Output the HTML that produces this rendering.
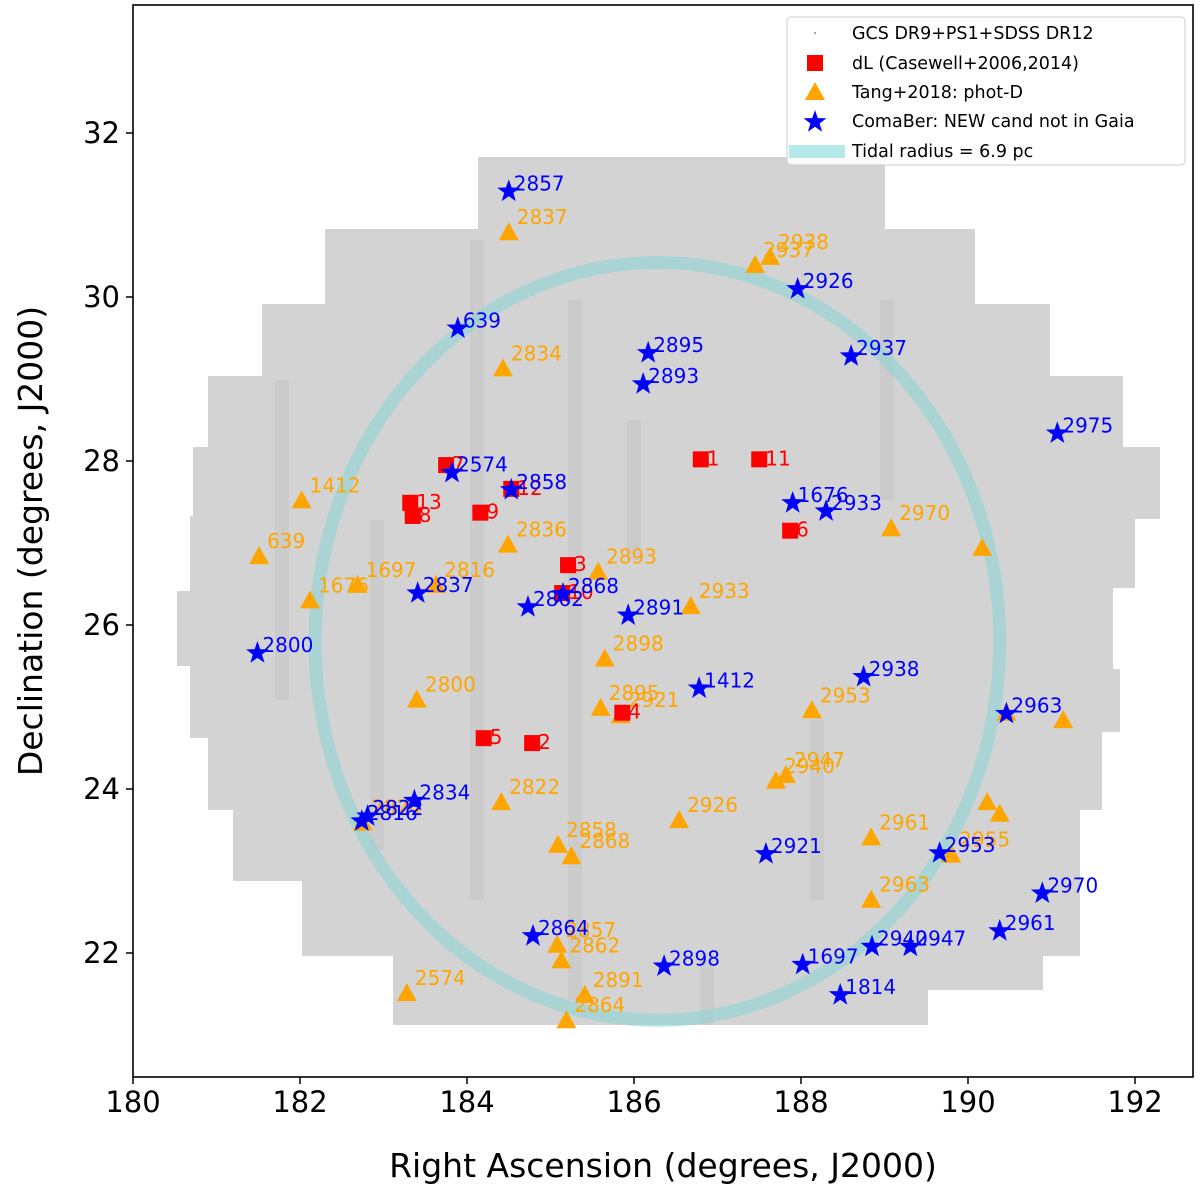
<!DOCTYPE html>
<html><head><meta charset="utf-8"><style>
body{margin:0;background:#fff;}
svg{display:block;font-family:"DejaVu Sans","Liberation Sans",sans-serif;}
</style></head><body>
<svg id="chart" width="1200" height="1200" viewBox="0 0 1200 1200">
<defs>
<clipPath id="plotclip"><rect x="133" y="5" width="1060" height="1072"/></clipPath>
</defs>
<rect x="0" y="0" width="1200" height="1200" fill="#fff"/>
<g id="footprint"></g>
<g id="plot" clip-path="url(#plotclip)"></g>
<rect x="133" y="5" width="1060" height="1072" fill="none" stroke="#000" stroke-width="1.6"/>
<g id="axes"></g>
<g id="legend"></g>
</svg>
<script>
const xTicks=[180,182,184,186,188,190,192];
const yTicks=[22,24,26,28,30,32];
const dlRA=[186.80,187.50,183.75,183.32,183.35,184.16,184.53,187.87,185.21,185.14,185.86,184.20,184.78];
const dlDec=[28.02,28.02,27.95,27.49,27.33,27.37,27.66,27.15,26.73,26.39,24.93,24.62,24.56];
const dlLab=["1","11","7","13","8","9","12","6","3","10","4","5","2"];
const tRA=[184.50,187.63,187.45,184.43,182.02,181.51,182.12,182.69,183.63,184.49,185.57,186.68,185.65,183.40,185.60,185.84,188.13,187.82,187.70,184.41,186.54,185.09,185.25,188.84,190.23,190.38,189.80,188.84,189.08,190.17,191.14,190.46,185.08,185.13,185.41,185.19,183.28,182.75];
const tDec=[30.79,30.49,30.39,29.13,27.52,26.84,26.30,26.49,26.49,26.98,26.65,26.23,25.59,25.09,24.99,24.90,24.96,24.17,24.10,23.84,23.62,23.32,23.18,23.41,23.84,23.70,23.20,22.65,27.18,26.94,24.84,24.93,22.10,21.91,21.49,21.18,21.51,23.59];
const tLab=["2837","2938","2937","2834","1412","639","1676","1697","2816","2836","2893","2933","2898","2800","2895","2921","2953","2947","2940","2822","2926","2858","2868","2961","","","2955","2963","2970","","","","2857","2862","2891","2864","2574","2824"];
const sRA=[184.50,187.96,183.89,186.17,186.11,188.60,191.07,183.82,184.53,187.90,188.30,183.41,185.15,184.73,185.93,181.49,186.78,188.75,190.46,183.37,182.81,182.74,187.58,189.66,190.89,190.38,184.79,186.36,188.02,188.85,189.31,188.47];
const sDec=[31.30,30.11,29.63,29.33,28.95,29.29,28.35,27.87,27.66,27.50,27.40,26.40,26.39,26.23,26.13,25.67,25.24,25.38,24.93,23.87,23.68,23.62,23.22,23.23,22.74,22.28,22.22,21.85,21.87,22.09,22.09,21.50];
const sLab=["2857","2926","639","2895","2893","2937","2975","2574","2858","1676","2933","2837","2868","2862","2891","2800","1412","2938","2963","2834","2822","2816","2921","2953","2970","2961","2864","2898","1697","2940","2947","1814"];
const tidalCenter=[186.28,25.80];
const tidalRadius=[4.10,4.62];

const NS="http://www.w3.org/2000/svg";
const X=v=>133+(v-180)*83.5;
const Y=v=>133+(32-v)*82;
function mk(tag,attrs,parent){const e=document.createElementNS(NS,tag);for(const k in attrs)e.setAttribute(k,attrs[k]);parent.appendChild(e);return e;}
const plot=document.getElementById('plot'),axes=document.getElementById('axes'),fp=document.getElementById('footprint'),leg=document.getElementById('legend');

const outline="478,157 885,157 885,229 975,229 975,304 1050,304 1050,376 1123,376 1123,447 1160,447 1160,519 1135,519 1135,588 1113,588 1113,669 1120,669 1120,732 1102,732 1102,810 1080,810 1080,956 1043,956 1043,990 928,990 928,1025 393,1025 393,956 302,956 302,881 233,881 233,810 208,810 208,738 190,738 190,666 177,666 177,591 190,591 190,516 193,516 193,447 208,447 208,376 262,376 262,304 325,304 325,229 478,229";
let p=mk('polygon',{points:outline,fill:'#d3d3d3'},fp);

const cp=mk('clipPath',{id:'fpclip'},document.querySelector('defs'));mk('polygon',{points:outline},cp);
const tex=mk('g',{'clip-path':'url(#fpclip)'},fp);
[[275,380,700],[370,520,850],[470,240,900],[568,300,1000],[627,420,560],[700,960,1030],[810,720,900],[880,300,500]].forEach(s=>{
  mk('rect',{x:s[0],y:s[1],width:14,height:s[2]-s[1],fill:'#888',opacity:'0.1'},tex);
});

let el=mk('ellipse',{cx:X(tidalCenter[0]),cy:Y(tidalCenter[1]),rx:tidalRadius[0]*83.5,ry:tidalRadius[1]*82,fill:'none',stroke:'#8fd6d6',"stroke-width":13,opacity:'0.6'},plot);


tRA.forEach((r,i)=>{const x=X(r),y=Y(tDec[i]);
  const t=mk('polygon',{points:`${x},${y-10} ${x+10},${y+8} ${x-10},${y+8}`,fill:'#ffa500'},plot);
  
  if(tLab[i]){const l=mk('text',{x:x+8,y:y-8,fill:'#ffa500','font-size':20},plot);l.textContent=tLab[i];
  }
});
dlRA.forEach((r,i)=>{const x=X(r),y=Y(dlDec[i]);
  const s=mk('rect',{x:x-8,y:y-8,width:16,height:16,fill:'#ff0000'},plot);
  
  const l=mk('text',{x:x+6,y:y+6,fill:'#ff0000','font-size':20},plot);l.textContent=dlLab[i];
  
});
function starPts(x,y,R){const r=R*0.4;let a=[];for(let k=0;k<10;k++){const ang=-Math.PI/2+k*Math.PI/5;const rr=k%2?r:R;a.push((x+rr*Math.cos(ang)).toFixed(1)+','+(y+rr*Math.sin(ang)).toFixed(1));}return a.join(' ');}
sRA.forEach((r,i)=>{const x=X(r),y=Y(sDec[i]);
  const s=mk('polygon',{points:starPts(x,y+1,12),fill:'#0000ff'},plot);
  
  const l=mk('text',{x:x+5,y:y,fill:'#0000ff','font-size':20},plot);l.textContent=sLab[i];
  
});

xTicks.forEach(v=>{const x=X(v);
  mk('line',{x1:x,y1:1077,x2:x,y2:1084,stroke:'#000','stroke-width':1.5},axes);
  const t=mk('text',{x:x,y:1112,'font-size':29,'text-anchor':'middle'},axes);t.textContent=v;
  
});
yTicks.forEach(v=>{const y=Y(v);
  mk('line',{x1:126,y1:y,x2:133,y2:y,stroke:'#000','stroke-width':1.5},axes);
  const t=mk('text',{x:120,y:y+10,'font-size':29,'text-anchor':'end'},axes);t.textContent=v;
  
});
let xt=mk('text',{x:663,y:1177,'font-size':33,'text-anchor':'middle'},axes);xt.textContent='Right Ascension (degrees, J2000)';

let yt=mk('text',{x:0,y:0,'font-size':33,'text-anchor':'middle',transform:'translate(42,541) rotate(-90)'},axes);yt.textContent='Declination (degrees, J2000)';


mk('rect',{x:787,y:17,width:398,height:148,rx:4,fill:'#fff','fill-opacity':0.85,stroke:'#ccc'},leg);
const lt=[['GCS DR9+PS1+SDSS DR12',33],['dL (Casewell+2006,2014)',63],['Tang+2018: phot-D',92],['ComaBer: NEW cand not in Gaia',121],['Tidal radius = 6.9 pc',151]];
mk('circle',{cx:815,cy:33,r:1,fill:'#888'},leg);
mk('rect',{x:807,y:55,width:16,height:16,fill:'#ff0000'},leg);
mk('polygon',{points:'815,82 825,100 805,100',fill:'#ffa500'},leg);
mk('polygon',{points:starPts(815,122,12),fill:'#0000ff'},leg);
mk('rect',{x:789,y:145,width:56,height:13,fill:'#b5e8e8'},leg);
lt.forEach(e=>{const t=mk('text',{x:852,y:e[1]+6,'font-size':17.5},leg);t.textContent=e[0];
  });
</script>
</body></html>
